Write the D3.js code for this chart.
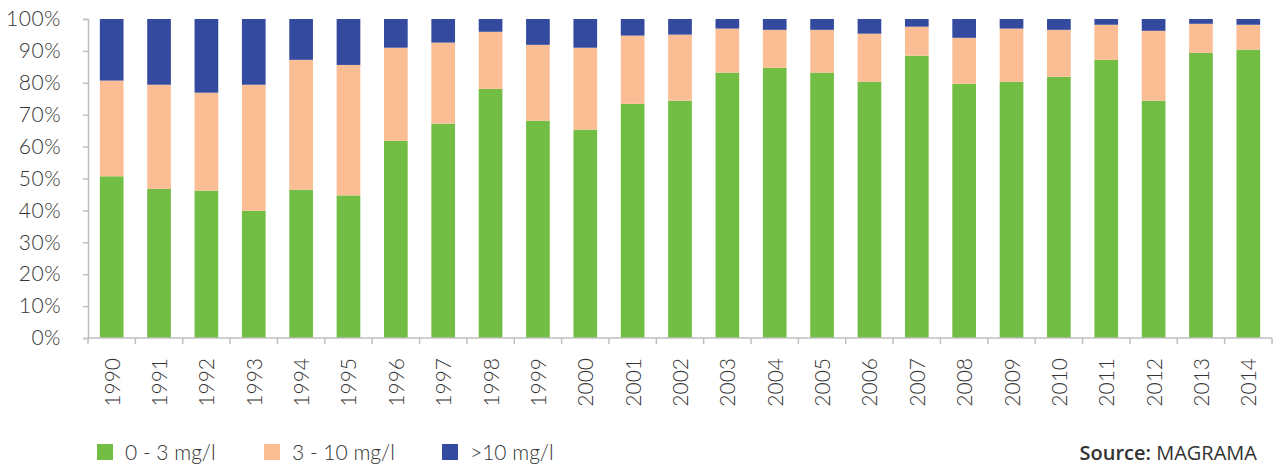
<!DOCTYPE html>
<html>
<head>
<meta charset="utf-8">
<script src="https://cdn.jsdelivr.net/npm/d3@7"></script>
<style>
  body { margin: 0; background: #fff; }
  text { font-family: Lato, "Open Sans", sans-serif; font-weight: 300; fill: #333; }
</style>
</head>
<body>
<svg id="chart" width="1275" height="467"></svg>
<script>
// Years on the x axis
var years = ['1990', '1991', '1992', '1993', '1994', '1995', '1996', '1997', '1998', '1999',
  '2000', '2001', '2002', '2003', '2004', '2005', '2006', '2007', '2008', '2009',
  '2010', '2011', '2012', '2013', '2014']

// Share of each class (%)
var low = [50.7, 46.8, 46.2, 39.9, 46.5, 44.7, 61.8, 67.2, 78.1, 68.1, 65.3, 73.4, 74.4,
  83.2, 84.7, 83.2, 80.3, 88.5, 79.7, 80.3, 81.9, 87.2, 74.4, 89.4, 90.4]
var mid = [30.0, 32.6, 30.7, 39.5, 40.7, 40.9, 29.2, 25.4, 17.9, 23.8, 25.7, 21.4, 20.7,
  13.8, 11.9, 13.4, 15.1, 9.1, 14.4, 16.7, 14.7, 11.0, 21.9, 9.1, 7.8]
var high = [19.3, 20.6, 23.1, 20.6, 12.8, 14.4, 9.0, 7.4, 4.0, 8.1, 9.0, 5.2, 4.9,
  3.0, 3.4, 3.4, 4.6, 2.4, 5.9, 3.0, 3.4, 1.8, 3.7, 1.5, 1.8]

var seriesKeys = ['low', 'mid', 'high']
var seriesLabels = ['0 - 3 mg/l', '3 - 10 mg/l', '>10 mg/l']
var seriesColors = ['#72be44', '#fbbd93', '#344a9f']
var yTicks = [0, 10, 20, 30, 40, 50, 60, 70, 80, 90, 100]

var rows = years.map(function (y, i) {
  return { year: y, low: low[i], mid: mid[i], high: high[i] }
})

var svg = d3.select('#chart')
var axisColor = '#bfbfbf'

var x = d3.scaleBand()
  .domain(years)
  .range([88, 1272])
  .paddingInner(0.5)
  .paddingOuter(0.25)

var y = d3.scaleLinear()
  .domain([0, 100])
  .range([338, 19])

var color = d3.scaleOrdinal().domain(seriesKeys).range(seriesColors)

var stacked = d3.stack().keys(seriesKeys)(rows)

// Bars
svg.append('g')
  .selectAll('g')
  .data(stacked)
  .join('g')
  .attr('fill', function (d) { return color(d.key) })
  .selectAll('rect')
  .data(function (d) { return d })
  .join('rect')
  .attr('x', function (d) { return x(d.data.year) })
  .attr('y', function (d) { return y(d[1]) })
  .attr('width', x.bandwidth())
  .attr('height', function (d) { return y(d[0]) - y(d[1]) })

// Y axis
var yAxis = svg.append('g')
  .attr('transform', 'translate(88,0)')
  .call(d3.axisLeft(y)
    .tickValues(yTicks)
    .tickSize(5)
    .tickPadding(22)
    .tickFormat(function (d) { return d + '%' }))
yAxis.select('.domain').attr('stroke', axisColor).attr('stroke-width', 1.5)
yAxis.selectAll('.tick line').attr('stroke', axisColor).attr('stroke-width', 1.5)
yAxis.selectAll('.tick text')
  .style('font-size', '21px')
  .style('font-family', 'Lato, sans-serif')
  .style('font-weight', '300')
  .style('letter-spacing', '0.5px')
  .attr('fill', '#333')

// X axis: baseline, boundary ticks and rotated year labels
var xAxis = svg.append('g').attr('transform', 'translate(0,' + y(0) + ')')
xAxis.append('line')
  .attr('x1', x.range()[0]).attr('x2', x.range()[1])
  .attr('stroke', axisColor).attr('stroke-width', 1.5)

var gap = (x.step() - x.bandwidth()) / 2
var bounds = years.map(function (d) { return x(d) - gap })
bounds.push(x.range()[1])
xAxis.selectAll('line.bound')
  .data(bounds)
  .join('line')
  .attr('class', 'bound')
  .attr('x1', function (d) { return d }).attr('x2', function (d) { return d })
  .attr('y1', 0).attr('y2', 6)
  .attr('stroke', axisColor).attr('stroke-width', 1.5)

xAxis.selectAll('text')
  .data(years)
  .join('text')
  .attr('transform', function (d) {
    return 'translate(' + (x(d) + x.bandwidth() / 2 + 8) + ',20) rotate(-90)'
  })
  .attr('text-anchor', 'end')
  .style('font-size', '21px')
  .text(function (d) { return d })

// Legend
var legendX = [97, 264, 442]
var legend = svg.append('g')
legend.selectAll('rect')
  .data(seriesKeys)
  .join('rect')
  .attr('x', function (d, i) { return legendX[i] })
  .attr('y', 444)
  .attr('width', 16)
  .attr('height', 16)
  .attr('fill', function (d) { return color(d) })
legend.selectAll('text')
  .data(seriesLabels)
  .join('text')
  .attr('x', function (d, i) { return legendX[i] + 28 })
  .attr('y', 460)
  .style('font-size', '21px')
  .text(function (d) { return d })

// Source note
var src = svg.append('text')
  .attr('x', 1257)
  .attr('y', 460)
  .attr('text-anchor', 'end')
  .style('font-size', '20px')
  .style('font-family', '"Open Sans", sans-serif')
src.append('tspan').style('font-weight', '600').text('Source: ')
src.append('tspan').style('font-weight', '400').text('MAGRAMA')
</script>
</body>
</html>
